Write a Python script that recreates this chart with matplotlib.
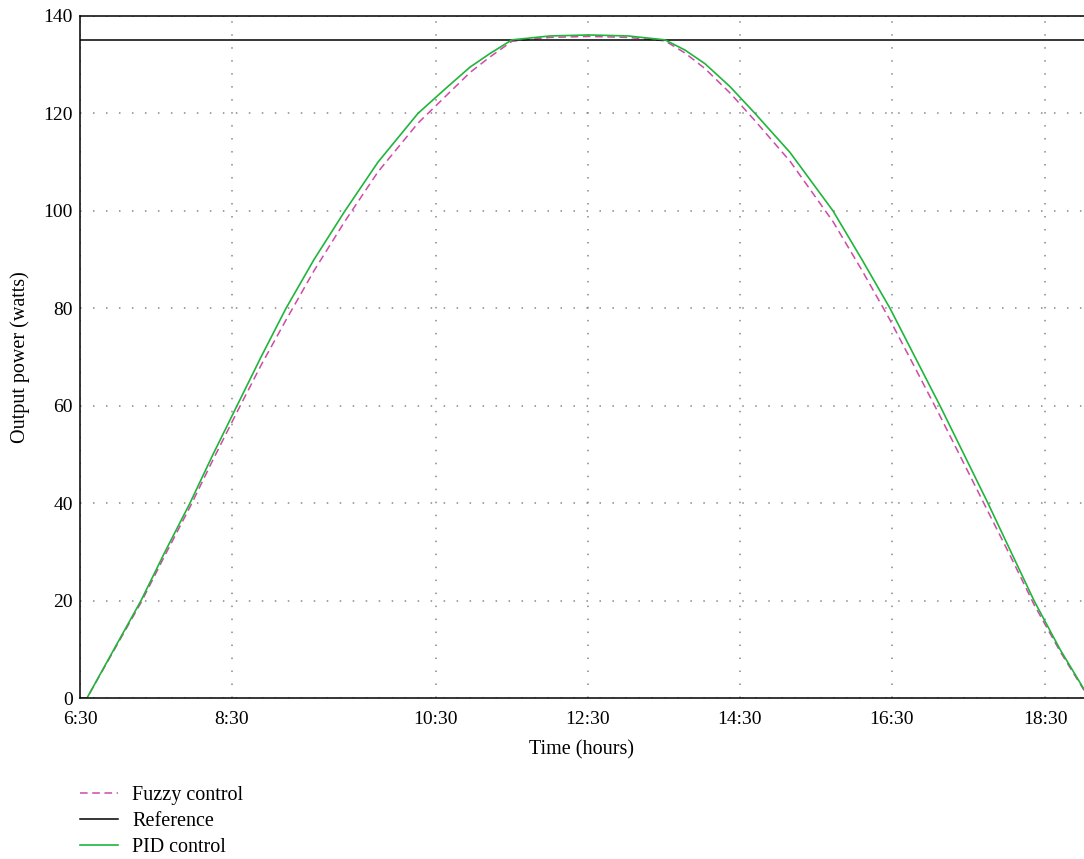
import matplotlib.pyplot as plt
import numpy as np

plt.rcParams['font.family'] = ['Liberation Serif', 'DejaVu Serif']

# time axis in hours (axis units)
t = [6.500, 6.592, 6.947, 7.303, 7.618, 7.947, 8.250, 8.566, 8.882, 9.211,
     9.579, 9.987, 10.421, 10.947, 11.303, 11.632, 11.895, 12.184, 12.684, 13.197,
     13.711, 14.197, 14.461, 14.724, 15.053, 15.382, 15.842, 16.408, 16.789, 17.158,
     17.487, 17.816, 18.132, 18.447, 18.750, 19.053, 19.395, 19.711]

# output power in watts
pid = [0, 0, 10, 20, 30, 40, 50, 60, 70, 80,
       90, 100, 110, 120, 125, 129.5, 132.3, 135.1, 135.9, 136.1,
       135.9, 135.1, 133.0, 130.2, 125.5, 120, 112, 100, 90, 80,
       70, 60, 50, 40, 30, 20, 10, 1.8]

fuzzy = [0, 0, 9.8, 19.6, 29.3, 39.2, 48.9, 58.7, 68.3, 77.6,
         87.7, 97.9, 108, 118, 123.4, 128.4, 131.6, 134.8, 135.6, 135.8,
         135.6, 134.9, 132.4, 129.2, 124.2, 118.5, 110.2, 97.8, 87.8, 77.6,
         67.8, 57.9, 48.1, 38.3, 28.9, 19.2, 9.6, 1.6]

reference = 135

tick_pos = [6.5, 8.5, 11.18, 13.18, 15.18, 17.18, 19.2]
tick_labels = ['6:30', '8:30', '10:30', '12:30', '14:30', '16:30', '18:30']

fig = plt.figure(figsize=(10.84, 8.59), dpi=100)
ax = fig.add_axes([0.0738, 0.1874, 0.9262, 0.794])

ax.plot(t, fuzzy, color='#d04aa6', linestyle=(0, (5, 3)), lw=1.1, label='Fuzzy control')
ax.axhline(reference, color='black', lw=1.1, label='Reference')
ax.plot(t, pid, color='#1fb53a', lw=1.2, label='PID control')

ax.set_xlim(6.5, 19.711)
ax.set_ylim(0, 140)
ax.set_xticks(tick_pos)
ax.set_xticklabels(tick_labels)
ax.set_yticks(np.arange(0, 141, 20))
ax.tick_params(length=0, labelsize=14)
ax.tick_params(axis='x', pad=9)
ax.tick_params(axis='y', pad=5)
ax.grid(True, color='#888888', linestyle=(0, (1, 7.5)), lw=1.1)
ax.spines['right'].set_visible(False)
for s in ['left', 'bottom', 'top']:
    ax.spines[s].set_linewidth(1.1)

ax.set_xlabel('Time (hours)', fontsize=14.5, labelpad=9)
ax.set_ylabel('Output power (watts)', fontsize=14.5, labelpad=10)

fig.legend(loc='upper left', bbox_to_anchor=(0.0738, 0.085), frameon=False,
           fontsize=14.5, handlelength=1.9, handletextpad=0.7, labelspacing=0.35,
           borderpad=0, borderaxespad=0)

fig.savefig('out.png', dpi=100)
